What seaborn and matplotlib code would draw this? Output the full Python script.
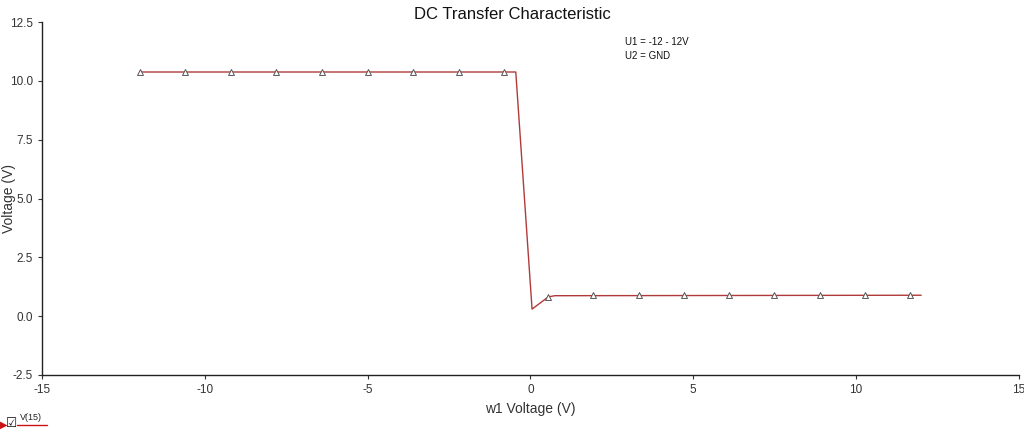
import numpy as np
import pandas as pd
import matplotlib
matplotlib.use("Agg")
import matplotlib.pyplot as plt
import seaborn as sns
from matplotlib.lines import Line2D

# trace V(15): sweep of w1 from -12 V to 12 V
sweep_v = [-12.0, -0.45, 0.05, 0.55, 0.75, 12.0]
out_v = [10.38, 10.38, 0.30, 0.82, 0.87, 0.89]

# marker positions along the trace
marker_x = [-12.0, -10.6, -9.2, -7.8, -6.4, -5.0, -3.6, -2.2, -0.8,
            0.55, 1.93, 3.32, 4.71, 6.10, 7.49, 8.88, 10.27, 11.66]
marker_y = [10.38] * 9 + [0.83] + [0.89] * 8

x_ticks = [-15, -10, -5, 0, 5, 10, 15]
y_ticks = [-2.5, 0.0, 2.5, 5.0, 7.5, 10.0, 12.5]

trace_color = "#b03a3a"

sns.set_style("white")
plt.rcParams['font.family'] = ['Liberation Sans', 'DejaVu Sans']

fig = plt.figure(figsize=(10.24, 4.34), dpi=100)
ax = fig.add_axes([0.041, 0.136, 0.954, 0.813])

line_df = pd.DataFrame({"x": sweep_v, "y": out_v})
mark_df = pd.DataFrame({"x": marker_x, "y": marker_y})

sns.lineplot(data=line_df, x="x", y="y", ax=ax, color=trace_color,
             linewidth=1.0, sort=False)
sns.scatterplot(data=mark_df, x="x", y="y", ax=ax, marker="^", s=18,
                facecolor="white", edgecolor="#555555", linewidth=0.7,
                zorder=3)

ax.set_xlim(-15, 15)
ax.set_ylim(-2.5, 12.5)
ax.set_xticks(x_ticks)
ax.set_xticklabels([str(t) for t in x_ticks])
ax.set_yticks(y_ticks)
ax.set_yticklabels([f"{t:.1f}" for t in y_ticks])
ax.tick_params(axis="both", labelsize=8.5, colors="#333333", length=3,
               width=0.8, direction="out", left=True, bottom=True)

for side in ["top", "right"]:
    ax.spines[side].set_visible(False)
for side in ["left", "bottom"]:
    ax.spines[side].set_color("#222222")
    ax.spines[side].set_linewidth(1.0)

ax.set_xlabel("w1 Voltage (V)", fontsize=10, color="#333333", labelpad=4)
ax.set_ylabel("Voltage (V)", fontsize=10, color="#333333")
ax.yaxis.set_label_coords(-0.0265, 0.50)
fig.suptitle("DC Transfer Characteristic", fontsize=12, y=0.985,
             color="#111111")

ax.text(0.597, 0.943, "U1 = -12 - 12V", transform=ax.transAxes,
        fontsize=7, color="#111111", va="center")
ax.text(0.597, 0.904, "U2 = GND", transform=ax.transAxes,
        fontsize=7, color="#111111", va="center")

# legend strip at the bottom-left corner
fig.text(0.0, 0.022, "\u25b6", fontsize=7, color="#cc1111",
         family=['DejaVu Sans'], va="center")
fig.text(0.006, 0.024, "\u2611", fontsize=9, color="#111111",
         family=['DejaVu Sans'], va="center")
fig.text(0.019, 0.038, "V(15)", fontsize=6.5, color="#222222", va="center")
fig.add_artist(Line2D([0.017, 0.046], [0.021, 0.021], color="#cc1111",
                      linewidth=1.0, transform=fig.transFigure))

fig.savefig("out.png", dpi=100)
plt.close(fig)
